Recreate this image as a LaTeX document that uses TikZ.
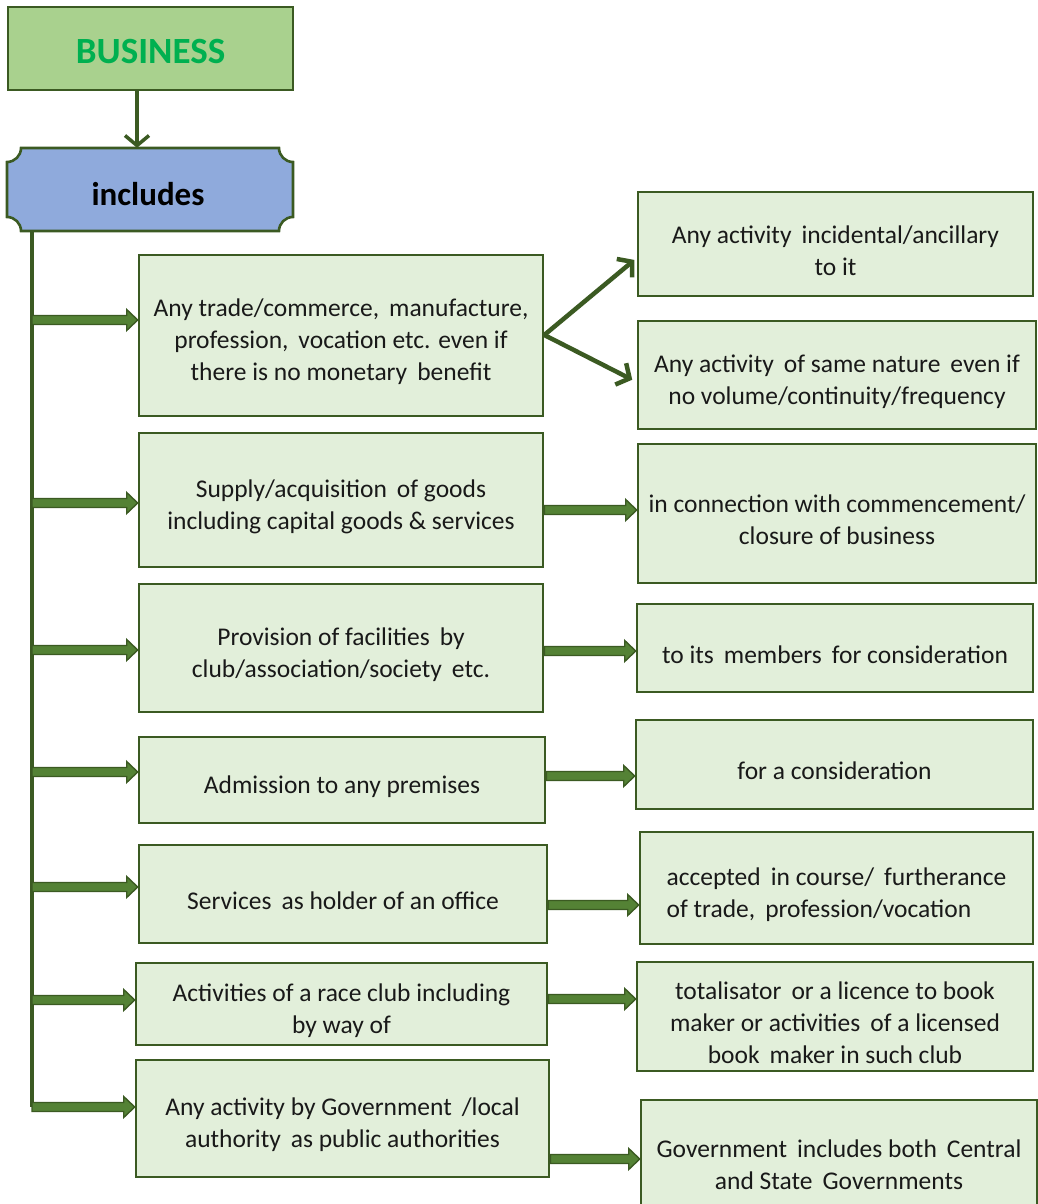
\documentclass[tikz,border=0pt]{standalone}
\usepackage{fontspec}
\setmainfont{Carlito}
\usetikzlibrary{arrows.meta,calc}

\definecolor{edge}{HTML}{3B5A22}
\definecolor{boxfill}{HTML}{E2EFDA}
\definecolor{headfill}{HTML}{A9D18E}
\definecolor{headtext}{HTML}{00B050}
\definecolor{incfill}{HTML}{8FAADC}
\definecolor{arrfill}{HTML}{548235}

\tikzset{
  item/.style={draw=edge, line width=2.6pt, fill=boxfill, align=center,
    inner sep=0pt, font=\fontsize{25.5}{32}\selectfont, text=black!90,
    text height=31pt},
  twolines/.style={text height=63pt},
  threelines/.style={text height=95pt},
  blockarrow/.style={draw=edge, fill=arrfill, line width=1.4pt, line join=miter,
    to path={let \p1=(\tikztostart), \p2=(\tikztotarget) in
      (\x1,\y1+4.5pt) -- (\x2-11pt,\y1+4.5pt) -- (\x2-11pt,\y1+10.5pt) -- (\x2,\y1)
      -- (\x2-11pt,\y1-10.5pt) -- (\x2-11pt,\y1-4.5pt) -- (\x1,\y1-4.5pt) -- cycle}},
  barb/.style={draw=edge, line width=4.5pt, -{Straight Barb[length=10pt,width=24pt,line width=4.5pt]}},
}

\begin{document}
\begin{tikzpicture}[x=1pt,y=-1pt]
\useasboundingbox (0,0) rectangle (1037,1204);

% title box
\node[draw=edge, line width=2.6pt, fill=headfill, minimum width=285pt, minimum height=83pt,
  inner sep=0pt, text height=31pt, text depth=0pt,
  font=\fontsize{37}{40}\selectfont\bfseries, text=headtext]
  (business) at (150.5,48.5) {BUSINESS};

% "includes" plaque with concave corners
\def\rr{14}
\path[draw=edge, line width=2.6pt, fill=incfill]
  (7+\rr,148) -- (293-\rr,148) arc[start angle=180,end angle=90,radius=\rr]
  -- (293,231-\rr) arc[start angle=270,end angle=180,radius=\rr]
  -- (7+\rr,231) arc[start angle=0,end angle=-90,radius=\rr]
  -- (7,148+\rr) arc[start angle=90,end angle=0,radius=\rr] -- cycle;
\node[minimum width=286pt, minimum height=83pt, inner sep=0pt,
  text height=32pt, text depth=0pt,
  font=\fontsize{33}{36}\selectfont\bfseries] (inc) at (148,189.5) {includes};

\draw[barb, line width=3.5pt, -{Straight Barb[length=10pt,width=24pt,line width=3.5pt]}]
  (business.south -| 137,0) -- (inc.north -| 137,0);

% left column
\node[item, threelines, minimum width=404pt, minimum height=161pt] (b1) at (341,335.5)
  {Any trade/commerce,\, manufacture,\\ profession,\, vocation etc. even if\\ there is no monetary\, benefit};
\node[item, twolines, minimum width=404pt, minimum height=134pt] (b2) at (341,500)
  {Supply/acquisition\, of goods\\ including capital goods \& services};
\node[item, twolines, minimum width=404pt, minimum height=128pt] (b3) at (341,648)
  {Provision of facilities\, by\\ club/association/society\, etc.};
\node[item, minimum width=406pt, minimum height=86pt] (b4) at (342,780)
  {Admission to any premises};
\node[item, minimum width=408pt, minimum height=98pt] (b5) at (343,894)
  {Services\, as holder of an office};
\node[item, twolines, minimum width=411pt, minimum height=82pt] (b6) at (341.5,1004)
  {Activities of a race club including\\ by way of};
\node[item, twolines, minimum width=413pt, minimum height=117pt] (b7) at (342.5,1118.5)
  {Any activity by Government\, /local\\ authority\, as public authorities};

% right column
\node[item, twolines, minimum width=395pt, minimum height=104pt] (r1) at (835.5,244)
  {Any activity\, incidental/ancillary\\ to it};
\node[item, twolines, minimum width=398pt, minimum height=108pt] (r2) at (837,375)
  {Any activity\, of same nature\, even if\\ no volume/continuity/frequency};
\node[item, twolines, minimum width=398pt, minimum height=139pt] (r3) at (837,513.5)
  {in connection with commencement/\\ closure of business};
\node[item, minimum width=396pt, minimum height=88pt] (r4) at (835,648)
  {to its\, members\, for consideration};
\node[item, minimum width=397pt, minimum height=89pt] (r5) at (834.5,764.5)
  {for a consideration};
\node[item, twolines, minimum width=393pt, minimum height=112pt, align=left] (r6) at (836.5,888)
  {accepted\, in course/\, furtherance\\ of trade,\, profession/vocation};
\node[item, threelines, minimum width=396pt, minimum height=109pt] (r7) at (835,1016.5)
  {totalisator\, or a licence to book\\ maker or activities\, of a licensed\\ book\, maker in such club};
\node[item, twolines, minimum width=396pt, minimum height=116pt] (r8) at (839,1158)
  {Government\, includes both\, Central\\ and State\, Governments};

% trunk and branches
\coordinate (trunkend) at (32,1107);
\draw[edge, line width=3.5pt] (inc.south -| trunkend) -- (trunkend);
\foreach \bx/\yy in {b1/320,b2/503,b3/650,b4/772,b5/887,b6/1000,b7/1107}
  \draw[blockarrow] (trunkend |- 0,\yy) to (\bx.west |- 0,\yy);

% links to the right column
\draw[blockarrow] (b2.east |- 0,510) to (r3.west |- 0,510);
\draw[blockarrow] (b3.east |- 0,651) to (r4.west |- 0,651);
\draw[blockarrow] (b4.east |- 0,776) to (r5.west |- 0,776);
\draw[blockarrow] (b5.east |- 0,905) to (r6.west |- 0,905);
\draw[blockarrow] (b6.east |- 0,999) to (r7.west |- 0,999);
\draw[blockarrow] (b7.east |- 0,1159) to (r8.west |- 0,1159);

\coordinate (fork) at (b1.east |- 0,335);
\draw[barb, shorten >=3pt] (fork) -- (r1.west |- 0,258);
\draw[barb, shorten >=5pt] (fork) -- (r2.west |- 0,382);
\end{tikzpicture}
\end{document}
